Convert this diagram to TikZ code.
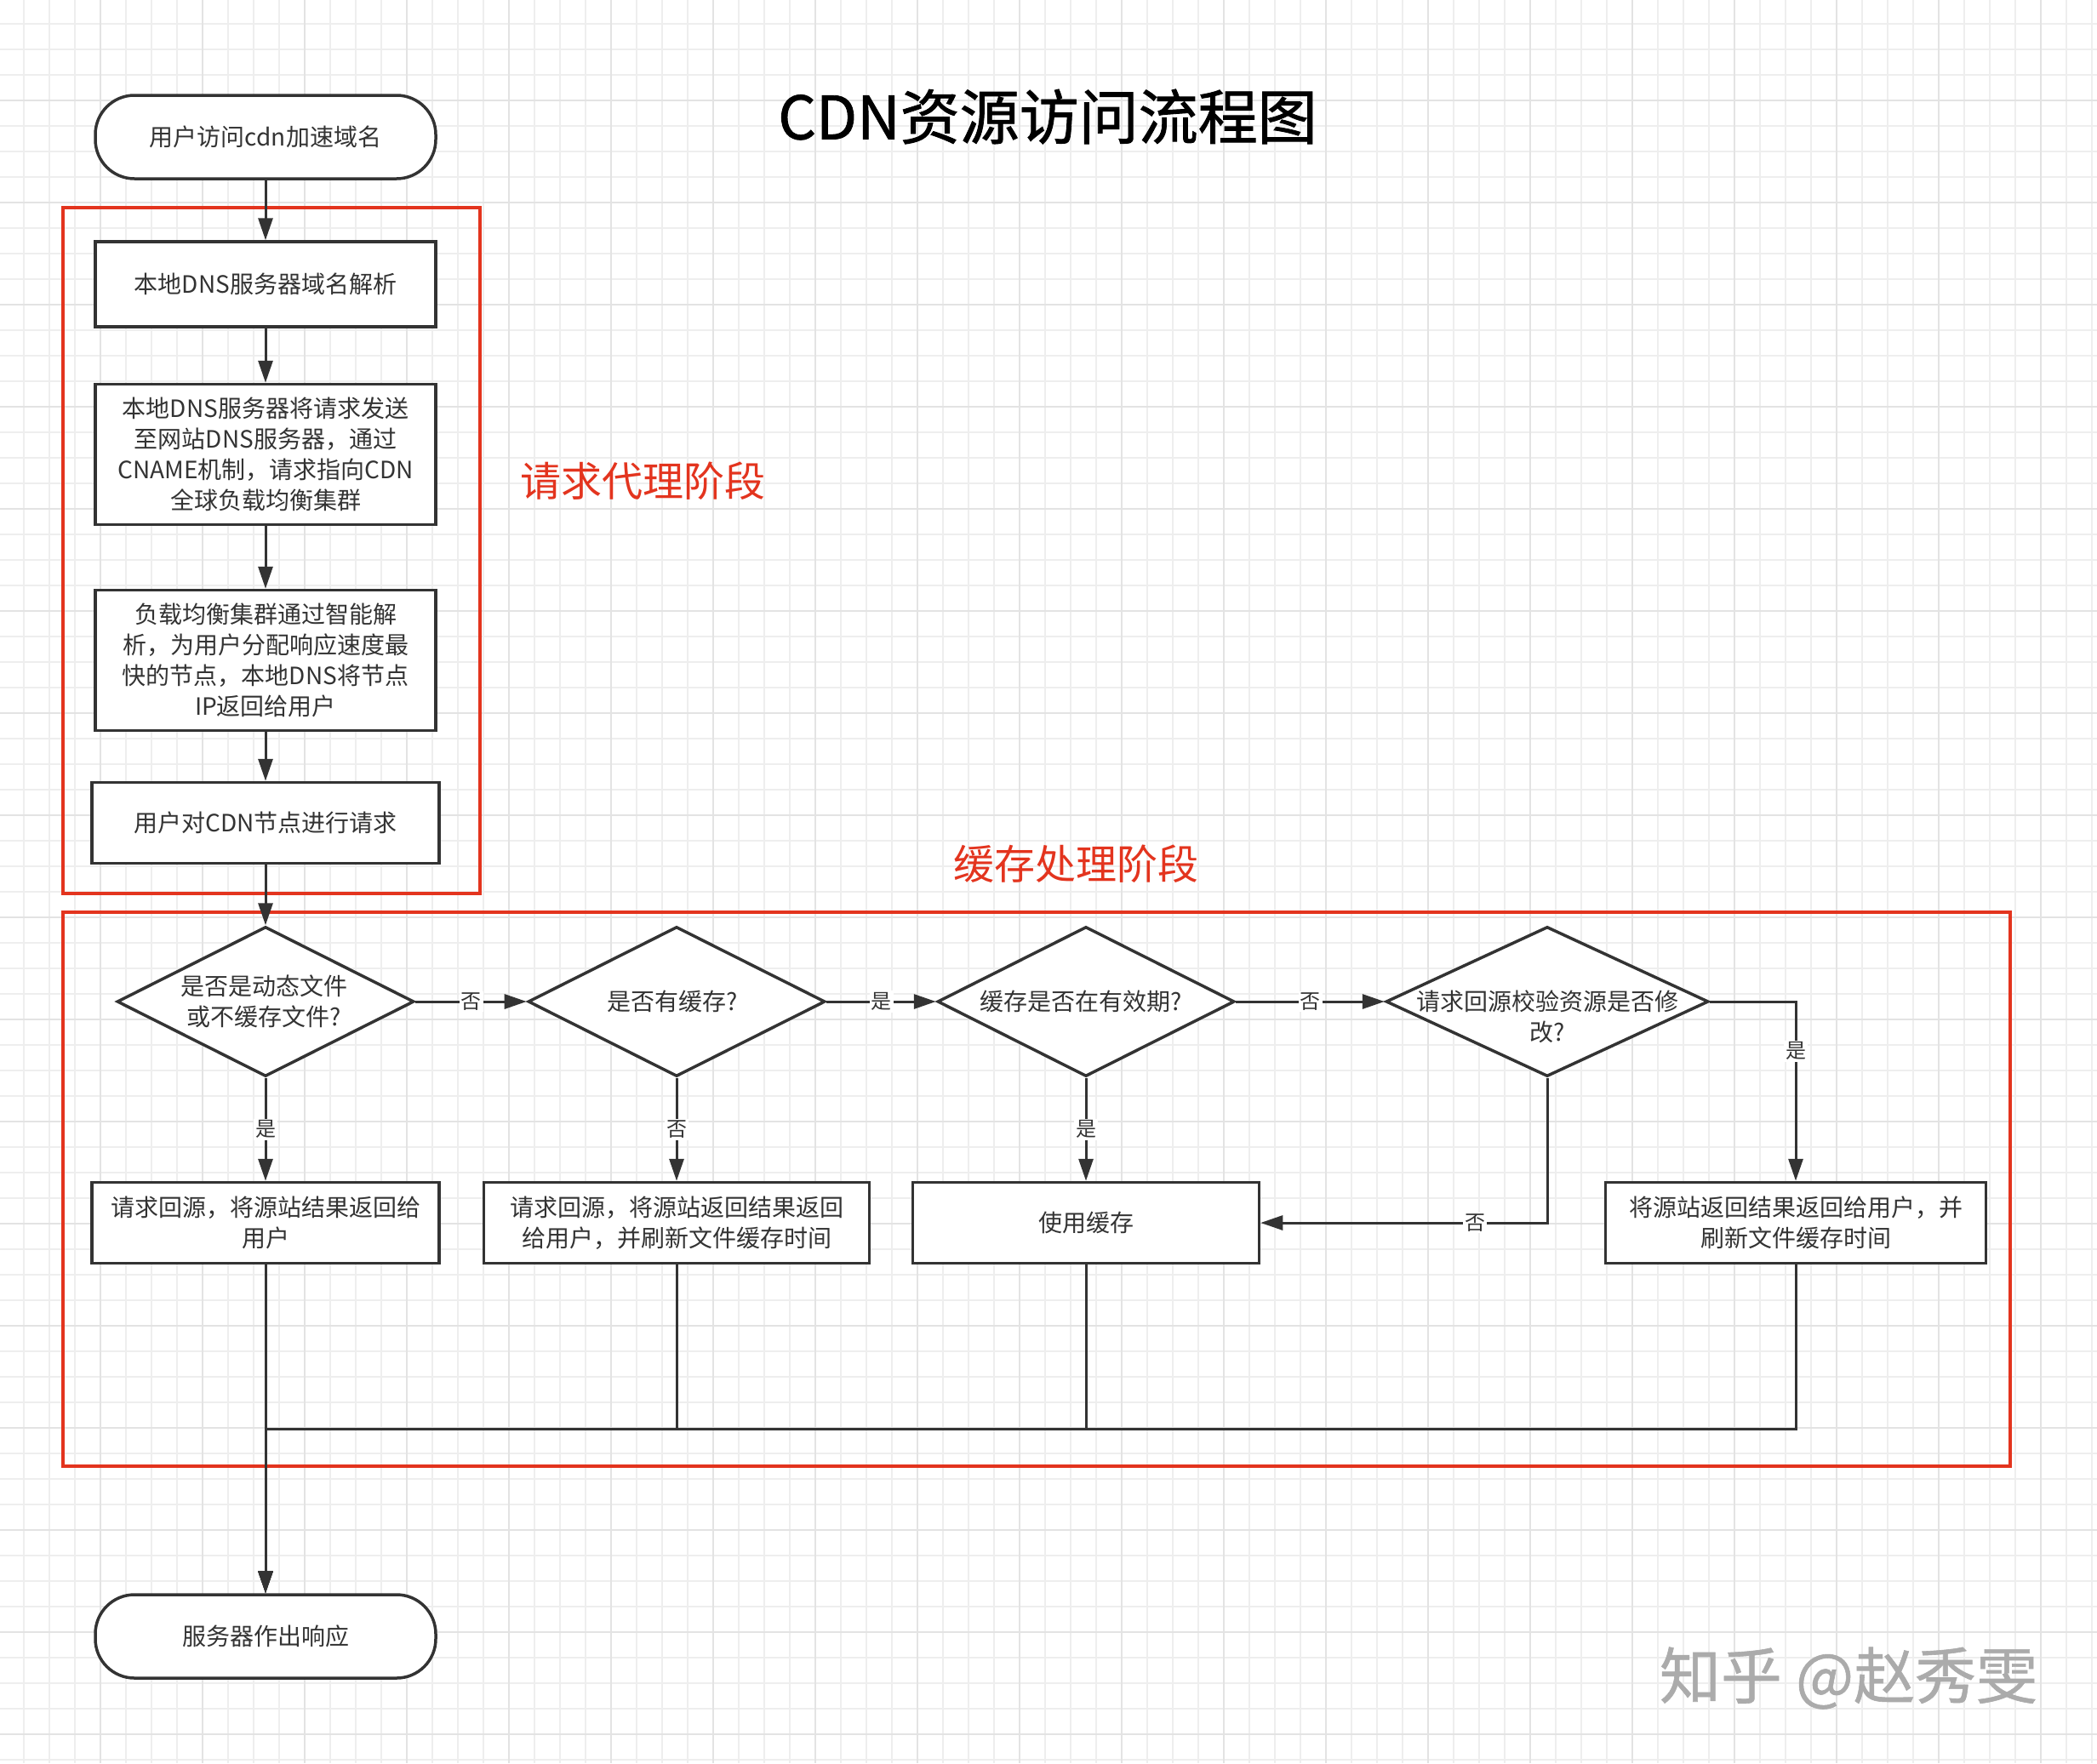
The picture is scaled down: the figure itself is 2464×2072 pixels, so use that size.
\documentclass[tikz,border=0pt]{standalone}
\usepackage{fontspec}
\setmainfont{Noto Sans CJK SC}
\newfontfamily\titlefont[FakeBold=1.2]{Noto Sans CJK SC}
\newfontfamily\wmfont[FakeBold=0.8]{Noto Sans CJK SC}
\usetikzlibrary{shapes.geometric,arrows.meta}
\definecolor{lc}{HTML}{333333}
\definecolor{tc}{HTML}{333333}
\definecolor{rc}{HTML}{E3341E}
\definecolor{gmin}{HTML}{EEEEEE}
\definecolor{gmaj}{HTML}{E3E3E3}
\definecolor{wm}{HTML}{ABABAB}
\newcommand{\fsz}[2]{\fontsize{#1}{#2}\selectfont}
\begin{document}
\begin{tikzpicture}[x=1pt,y=-1pt,
  proc/.style={draw=lc, line width=3.5pt, fill=white, rectangle, inner sep=0pt, align=center, font=\fsz{28}{36}, text=tc},
  term/.style={proc, rounded corners=46pt},
  dec/.style={draw=lc, line width=3.5pt, fill=white, diamond, inner sep=0pt, minimum width=349pt, minimum height=176pt},
  dtext/.style={align=center, font=\fsz{28}{36}, text=tc, inner sep=0pt},
  conn/.style={draw=lc, line width=3pt},
  arr/.style={conn, -{Triangle[length=26pt,width=17pt]}},
  lbl/.style={fill=white, inner sep=2pt, font=\fsz{24}{28}, text=tc},
  stage/.style={draw=rc, line width=3.5pt},
  stagetext/.style={text=rc, font=\fsz{48}{56}},
]
\useasboundingbox (0,0) rectangle (2464,2072);
\fill[white] (0,0) rectangle (2464,2072);
% grid
\foreach \k in {0,...,81} {\draw[gmin, line width=2pt] ({28+30*\k},0) -- ({28+30*\k},2072);}
\foreach \k in {0,...,68} {\draw[gmin, line width=2pt] (0,{28+30*\k}) -- (2464,{28+30*\k});}
\foreach \k in {3,7,...,79} {\draw[gmaj, line width=2pt] ({28+30*\k},0) -- ({28+30*\k},2072);}
\foreach \k in {3,7,...,67} {\draw[gmaj, line width=2pt] (0,{28+30*\k}) -- (2464,{28+30*\k});}

% stage frames
\draw[stage] (74,244) rectangle (564,1050);
\draw[stage] (74,1072) rectangle (2362,1723);
\node[stagetext] (s1) at (755,565) {请求代理阶段};
\node[stagetext] (s2) at (1264,1015) {缓存处理阶段};

% title
\node[font=\titlefont\fsz{70}{80}, text=black] (title) at (1231,137) {CDN资源访问流程图};

% first column
\node[term, minimum width=400pt, minimum height=98pt] (start) at (312,161) {用户访问cdn加速域名};
\node[proc, minimum width=400pt, minimum height=100pt] (n1) at (312,334) {本地DNS服务器域名解析};
\node[proc, minimum width=400pt, minimum height=165pt] (n2) at (312,534) {本地DNS服务器将请求发送\\至网站DNS服务器，通过\\CNAME机制，请求指向CDN\\全球负载均衡集群};
\node[proc, minimum width=400pt, minimum height=165pt] (n3) at (312,776) {负载均衡集群通过智能解\\析，为用户分配响应速度最\\快的节点，本地DNS将节点\\IP返回给用户};
\node[proc, minimum width=408pt, minimum height=95pt] (n4) at (312,967) {用户对CDN节点进行请求};

% decisions
\node[dec] (d1) at (312,1177) {};
\node[dtext] (d1t) at (310,1177) {是否是动态文件\\或不缓存文件?};
\node[dec] (d2) at (795,1177) {};
\node[dtext] (d2t) at (790,1177) {是否有缓存?};
\node[dec] (d3) at (1276,1177) {};
\node[dtext] (d3t) at (1270,1177) {缓存是否在有效期?};
\node[dec, minimum width=379pt] (d4) at (1818,1177) {};
\node[dtext] (d4t) at (1818,1195) {请求回源校验资源是否修\\改?};

% result boxes
\node[proc, minimum width=408pt, minimum height=95pt] (b1) at (312,1437) {请求回源，将源站结果返回给\\用户};
\node[proc, minimum width=453pt, minimum height=95pt] (b2) at (795,1437) {请求回源，将源站返回结果返回\\给用户，并刷新文件缓存时间};
\node[proc, minimum width=407pt, minimum height=95pt] (b3) at (1276,1437) {使用缓存};
\node[proc, minimum width=447pt, minimum height=95pt] (b4) at (2110,1437) {将源站返回结果返回给用户，并\\刷新文件缓存时间};

\node[term, minimum width=400pt, minimum height=98pt] (endt) at (312,1923) {服务器作出响应};
\coordinate (mrg) at (312,1679);

% connectors
\draw[arr] (start) -- (n1);
\draw[arr] (n1) -- (n2);
\draw[arr] (n2) -- (n3);
\draw[arr] (n3) -- (n4);
\draw[arr] (n4) -- (d1);
\draw[arr] (d1) -- node[lbl] (l1) {否} (d2);
\draw[arr] (d2) -- node[lbl] (l2) {是} (d3);
\draw[arr] (d3) -- node[lbl] (l3) {否} (d4);
\draw[arr] (d1) -- node[lbl] (l4) {是} (b1);
\draw[arr] (d2) -- node[lbl] (l5) {否} (b2);
\draw[arr] (d3) -- node[lbl] (l6) {是} (b3);
\draw[arr] (d4.east) -| node[lbl, pos=0.638] (l7) {是} (b4.north);
\draw[arr] (d4.south) |- node[lbl, pos=0.626] (l8) {否} (b3.east);
\draw[arr] (b1) -- (endt);
\draw[arr] (b2.south) |- (mrg) -- (endt.north);
\draw[arr] (b3.south) |- (mrg) -- (endt.north);
\draw[arr] (b4.south) |- (mrg) -- (endt.north);

% watermark
\node[text=wm, font=\wmfont\fsz{72}{80}] (wmk) at (2172,1972) {知乎 @赵秀雯};
\end{tikzpicture}
\end{document}
